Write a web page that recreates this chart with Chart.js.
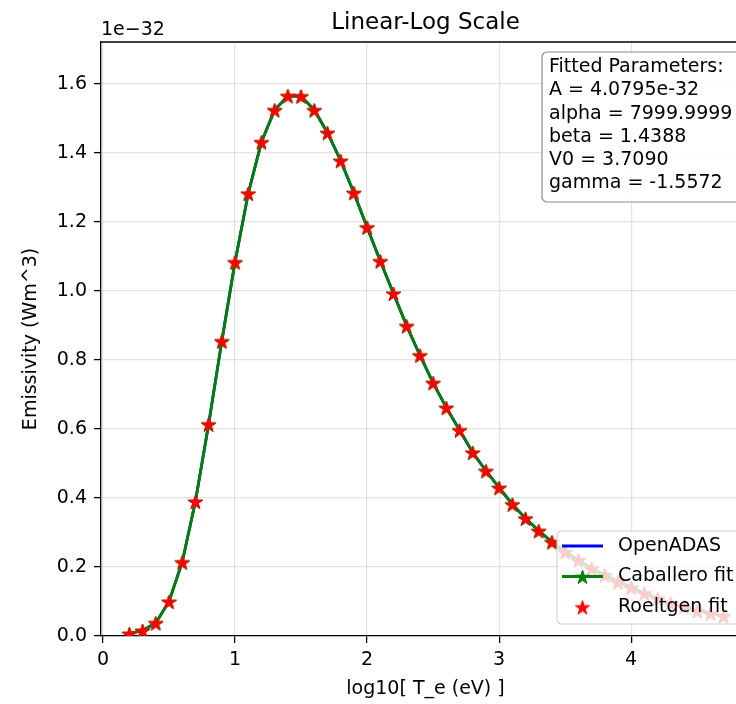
<!DOCTYPE html>
<html lang="en">
<head>
<meta charset="UTF-8">
<title>Linear-Log Scale</title>
<script src="https://cdn.jsdelivr.net/npm/chart.js"></script>
<style>
  html, body { margin: 0; padding: 0; overflow: hidden; background: #fff; }
</style>
</head>
<body>
<canvas id="emisChart" width="780" height="704"></canvas>
<script>
// log10 of electron temperature (eV)
const logTe = [0.2, 0.3, 0.4, 0.5, 0.6, 0.7, 0.8, 0.9, 1.0, 1.1, 1.2, 1.3, 1.4, 1.5, 1.6, 1.7,
  1.8, 1.9, 2.0, 2.1, 2.2, 2.3, 2.4, 2.5, 2.6, 2.7, 2.8, 2.9, 3.0, 3.1, 3.2, 3.3, 3.4, 3.5,
  3.6, 3.7, 3.8, 3.9, 4.0, 4.1, 4.2, 4.3, 4.4, 4.5, 4.6, 4.7];

// emissivity in units of 1e-32 W m^3
const openadas = [0.007, 0.016, 0.038, 0.100, 0.214, 0.390, 0.614, 0.855, 1.084, 1.283, 1.432,
  1.525, 1.566, 1.565, 1.525, 1.459, 1.378, 1.285, 1.185, 1.087, 0.993, 0.899, 0.814, 0.734,
  0.662, 0.597, 0.532, 0.479, 0.430, 0.382, 0.341, 0.305, 0.273, 0.244, 0.220, 0.196, 0.177,
  0.157, 0.141, 0.124, 0.109, 0.095, 0.085, 0.073, 0.066, 0.058];
const caballero = [0.007, 0.016, 0.038, 0.100, 0.214, 0.390, 0.614, 0.855, 1.084, 1.283, 1.432,
  1.525, 1.566, 1.565, 1.525, 1.459, 1.378, 1.285, 1.185, 1.087, 0.993, 0.899, 0.814, 0.734,
  0.662, 0.597, 0.532, 0.479, 0.430, 0.382, 0.341, 0.305, 0.273, 0.244, 0.220, 0.196, 0.177,
  0.157, 0.141, 0.124, 0.109, 0.095, 0.085, 0.073, 0.066, 0.058];
const roeltgen = [0.007, 0.016, 0.038, 0.100, 0.214, 0.390, 0.614, 0.855, 1.084, 1.283, 1.432,
  1.525, 1.566, 1.565, 1.525, 1.459, 1.378, 1.285, 1.185, 1.087, 0.993, 0.899, 0.814, 0.734,
  0.662, 0.597, 0.532, 0.479, 0.430, 0.382, 0.341, 0.305, 0.273, 0.244, 0.220, 0.196, 0.177,
  0.157, 0.141, 0.124, 0.109, 0.095, 0.085, 0.073, 0.066, 0.058];

const xTicks = [0, 1, 2, 3, 4];
const yTicks = [0, 0.2, 0.4, 0.6, 0.8, 1.0, 1.2, 1.4, 1.6];

const fitParams = [
  'Fitted Parameters:',
  'A = 4.0795e-32',
  'alpha = 7999.9999',
  'beta = 1.4388',
  'V0 = 3.7090',
  'gamma = -1.5572'
];

const FONT = 'DejaVu Sans';
const font = { family: FONT, size: 19 };
const gridColor = 'rgba(176,176,176,0.35)';

// filled five-point star, like matplotlib's '*' marker
function starImage(color, r) {
  const s = Math.ceil(r * 2 + 2);
  const c = document.createElement('canvas');
  c.width = c.height = s;
  const g = c.getContext('2d');
  g.beginPath();
  for (let i = 0; i < 10; i++) {
    const rad = i % 2 ? r * 0.382 : r;
    const a = -Math.PI / 2 + i * Math.PI / 5;
    g.lineTo(s / 2 + rad * Math.cos(a), s / 2 + 1 + rad * Math.sin(a));
  }
  g.closePath();
  g.fillStyle = color;
  g.fill();
  g.strokeStyle = color;
  g.lineWidth = 1;
  g.stroke();
  return c;
}
const redStar = starImage('#ff0000', 7.5);
const greenStar = starImage('#008000', 7.5);

const pts = arr => logTe.map((x, i) => ({ x: x, y: arr[i] }));

function roundRect(ctx, x, y, w, h, r) {
  ctx.beginPath();
  ctx.moveTo(x + r, y);
  ctx.arcTo(x + w, y, x + w, y + h, r);
  ctx.arcTo(x + w, y + h, x, y + h, r);
  ctx.arcTo(x, y + h, x, y, r);
  ctx.arcTo(x, y, x + w, y, r);
  ctx.closePath();
}

// title, offset text, top spine, legend and parameter box
const decorations = {
  id: 'decorations',
  afterDraw(chart) {
    const ctx = chart.ctx;
    const a = chart.chartArea;
    ctx.save();

    ctx.strokeStyle = '#000';
    ctx.lineWidth = 1.3;
    ctx.beginPath();
    ctx.moveTo(a.left, a.top);
    ctx.lineTo(a.right, a.top);
    ctx.lineTo(a.right, a.bottom);
    ctx.stroke();

    ctx.fillStyle = '#000';
    ctx.font = '23px "' + FONT + '"';
    ctx.textAlign = 'center';
    ctx.textBaseline = 'alphabetic';
    ctx.fillText('Linear-Log Scale', (a.left + a.right) / 2, 29);

    ctx.font = '19px "' + FONT + '"';
    ctx.textAlign = 'left';
    ctx.fillText('1e\u221232', a.left, 35);

    // parameter box
    roundRect(ctx, 542, 52, 200, 150, 5);
    ctx.fillStyle = 'rgba(255,255,255,0.85)';
    ctx.fill();
    ctx.strokeStyle = '#8c8c8c';
    ctx.lineWidth = 1.2;
    ctx.stroke();
    ctx.fillStyle = '#000';
    ctx.textBaseline = 'middle';
    fitParams.forEach((t, i) => ctx.fillText(t, 549, 67 + i * 23.3));

    // legend
    const lx = a.right - 193, ly = a.bottom - 105;
    roundRect(ctx, lx, ly, 185, 93, 4);
    ctx.fillStyle = 'rgba(255,255,255,0.8)';
    ctx.fill();
    ctx.strokeStyle = '#cccccc';
    ctx.lineWidth = 1;
    ctx.stroke();
    chart.data.datasets.forEach((ds, i) => {
      const cy = ly + 15 + i * 30.5;
      if (ds.showLine !== false) {
        ctx.strokeStyle = ds.borderColor;
        ctx.lineWidth = ds.borderWidth;
        ctx.beginPath();
        ctx.moveTo(lx + 5, cy);
        ctx.lineTo(lx + 46, cy);
        ctx.stroke();
      }
      if (ds.pointRadius > 0) {
        const img = ds.pointStyle;
        ctx.drawImage(img, lx + 25.5 - img.width / 2, cy - img.height / 2);
      }
      ctx.fillStyle = '#000';
      ctx.fillText(ds.label, lx + 61, cy);
    });

    ctx.restore();
  }
};

new Chart(document.getElementById('emisChart'), {
  type: 'line',
  data: {
    datasets: [
      {
        label: 'OpenADAS',
        data: pts(openadas),
        borderColor: '#0000ff',
        borderWidth: 2.8,
        pointRadius: 0,
        order: 3
      },
      {
        label: 'Caballero fit',
        data: pts(caballero),
        borderColor: '#008000',
        borderWidth: 2.8,
        pointStyle: greenStar,
        pointRadius: 7,
        order: 2
      },
      {
        label: 'Roeltgen fit',
        data: pts(roeltgen),
        showLine: false,
        pointStyle: redStar,
        pointRadius: 7,
        order: 1
      }
    ]
  },
  options: {
    responsive: false,
    animation: false,
    layout: { padding: { top: 42, right: 30, left: 0, bottom: 0 } },
    plugins: {
      legend: { display: false },
      title: { display: false },
      tooltip: { enabled: false }
    },
    scales: {
      x: {
        type: 'linear',
        min: -0.015,
        max: 4.9,
        afterBuildTicks: s => { s.ticks = xTicks.map(v => ({ value: v })); },
        afterFit: s => { s.height = 68; },
        grid: { color: gridColor, lineWidth: 1.2, tickColor: '#000', tickLength: 7, tickWidth: 1.3 },
        border: { color: '#000', width: 1.3 },
        ticks: { color: '#000', font: font, padding: 6, maxRotation: 0, callback: v => String(v) },
        title: { display: true, text: 'log10[ T_e (eV) ]', color: '#000', font: font, padding: { top: 0, bottom: 4 } }
      },
      y: {
        min: 0,
        max: 1.722,
        afterBuildTicks: s => { s.ticks = yTicks.map(v => ({ value: v })); },
        afterFit: s => { s.width = 101; },
        grid: { color: gridColor, lineWidth: 1.2, tickColor: '#000', tickLength: 7, tickWidth: 1.3 },
        border: { color: '#000', width: 1.3 },
        ticks: { color: '#000', font: font, padding: 7, callback: v => v.toFixed(1) },
        title: { display: true, text: 'Emissivity (Wm^3)', color: '#000', font: font, padding: { top: 20, bottom: 0 } }
      }
    }
  },
  plugins: [decorations]
});
</script>
</body>
</html>
